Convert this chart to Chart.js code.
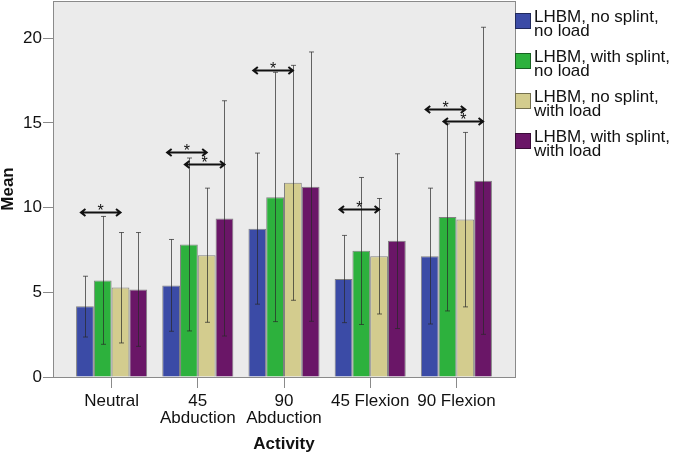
<!DOCTYPE html>
<html>
<head>
<meta charset="utf-8">
<script src="https://cdn.jsdelivr.net/npm/chart.js@4.4.1/dist/chart.umd.min.js"></script>
<style>
    body { margin: 0; background: #fff; }
    .wrap { position: relative; width: 674px; height: 455px; font-family: Arial, "Liberation Sans", sans-serif; }
    .legend-item { position: absolute; left: 515px; }
    .legend-box { position: absolute; left: 0; top: 3px; width: 14px; height: 14px; border: 1px solid rgba(0,0,0,0.45); }
    .legend-text { position: absolute; left: 19px; top: 0; font-size: 17px; line-height: 14px; color: #111; white-space: nowrap; }
</style>
</head>
<body>
<div class="wrap">
    <canvas id="chart" width="674" height="455"></canvas>
    <div id="legend"></div>
</div>
<script>
const activities = [['Neutral'], ['45', 'Abduction'], ['90', 'Abduction'], ['45 Flexion'], ['90 Flexion']];
const seriesNames = [
    ['LHBM, no splint,', 'no load'],
    ['LHBM, with splint,', 'no load'],
    ['LHBM, no splint,', 'with load'],
    ['LHBM, with splint,', 'with load']
];
const seriesColors = ['#3b4ba6', '#2db13d', '#d3cc8e', '#6a1667'];

const noSplintNoLoad = [4.18, 5.40, 8.75, 5.79, 7.13];
const splintNoLoad = [5.70, 7.82, 10.62, 7.45, 9.44];
const noSplintLoad = [5.28, 7.19, 11.47, 7.13, 9.30];
const splintLoad = [5.16, 9.36, 11.23, 8.04, 11.58];

const errHigh = [
    [5.95, 8.12, 13.22, 8.36, 11.15],
    [9.48, 12.93, 17.99, 11.78, 14.95],
    [8.53, 11.15, 18.40, 10.54, 14.44],
    [8.53, 16.31, 19.19, 13.18, 20.65]
];
const errLow = [
    [2.36, 2.70, 4.30, 3.21, 3.13],
    [1.93, 2.72, 3.27, 3.10, 3.90],
    [2.01, 3.23, 4.53, 3.72, 4.14],
    [1.81, 2.42, 3.29, 2.86, 2.52]
];

// significance markers: activity index, compared series, height
const sigGroup = [0, 1, 1, 2, 3, 4, 4];
const sigPair = [[0, 2], [0, 2], [1, 3], [0, 2], [0, 2], [0, 2], [1, 3]];
const sigY = [9.73, 13.28, 12.55, 18.14, 9.89, 15.84, 15.09];

const yTicks = [0, 5, 10, 15, 20];

const allMeans = [noSplintNoLoad, splintNoLoad, noSplintLoad, splintLoad];

const plotDecor = {
    id: 'plotDecor',
    beforeDraw(chart) {
        const { ctx, chartArea: a } = chart;
        ctx.save();
        ctx.fillStyle = '#ebebeb';
        ctx.fillRect(a.left, a.top, a.right - a.left, a.bottom - a.top);
        ctx.restore();
    },
    afterDatasetsDraw(chart) {
        const { ctx, chartArea: a } = chart;
        const y = chart.scales.y;
        ctx.save();
        // error bars
        ctx.strokeStyle = 'rgba(40,40,40,0.7)';
        ctx.lineWidth = 1;
        chart.data.datasets.forEach((ds, di) => {
            const meta = chart.getDatasetMeta(di);
            meta.data.forEach((bar, i) => {
                const x = Math.round(bar.x) + 0.5;
                const yh = y.getPixelForValue(errHigh[di][i]);
                const yl = y.getPixelForValue(errLow[di][i]);
                ctx.beginPath();
                ctx.moveTo(x, yh);
                ctx.lineTo(x, yl);
                ctx.moveTo(x - 2.5, yh);
                ctx.lineTo(x + 2.5, yh);
                ctx.moveTo(x - 2.5, yl);
                ctx.lineTo(x + 2.5, yl);
                ctx.stroke();
            });
        });
        // significance arrows
        ctx.strokeStyle = '#111';
        ctx.fillStyle = '#111';
        ctx.lineWidth = 2;
        ctx.font = '16px Arial, "Liberation Sans"';
        ctx.textAlign = 'center';
        ctx.textBaseline = 'alphabetic';
        sigGroup.forEach((g, k) => {
            const x1 = chart.getDatasetMeta(sigPair[k][0]).data[g].x - 4.5;
            const x2 = chart.getDatasetMeta(sigPair[k][1]).data[g].x + 0.5;
            const yy = Math.round(y.getPixelForValue(sigY[k])) + 0.5;
            ctx.beginPath();
            ctx.moveTo(x1, yy);
            ctx.lineTo(x2, yy);
            ctx.moveTo(x1 + 5, yy - 3.5);
            ctx.lineTo(x1 + 0.5, yy);
            ctx.lineTo(x1 + 5, yy + 3.5);
            ctx.moveTo(x2 - 5, yy - 3.5);
            ctx.lineTo(x2 - 0.5, yy);
            ctx.lineTo(x2 - 5, yy + 3.5);
            ctx.stroke();
            ctx.fillText('*', (x1 + x2) / 2, yy + 3);
        });
        // plot frame
        ctx.strokeStyle = '#8a8a8a';
        ctx.lineWidth = 1;
        ctx.strokeRect(Math.round(a.left) + 0.5, Math.round(a.top) + 0.5,
            Math.round(a.right - a.left), Math.round(a.bottom - a.top));
        ctx.restore();
    }
};

function buildLegend() {
    const legend = document.getElementById('legend');
    seriesNames.forEach((lines, i) => {
        const item = document.createElement('div');
        item.className = 'legend-item';
        item.style.top = (10 + i * 40) + 'px';
        item.innerHTML = `
            <div class="legend-box" style="background:${seriesColors[i]}"></div>
            <div class="legend-text">${lines.join('<br>')}</div>
        `;
        legend.appendChild(item);
    });
}

document.addEventListener('DOMContentLoaded', () => {
    Chart.defaults.font.family = 'Arial, "Liberation Sans", sans-serif';
    Chart.defaults.color = '#111';

    const datasets = allMeans.map((values, i) => ({
        label: seriesNames[i].join(' '),
        data: values.map((v, k) => ({ x: k, y: v })),
        backgroundColor: seriesColors[i],
        borderColor: 'rgba(0,0,0,0.45)',
        borderWidth: 1,
        categoryPercentage: 0.825,
        barPercentage: 1
    }));

    new Chart(document.getElementById('chart'), {
        type: 'bar',
        data: { datasets },
        options: {
            responsive: false,
            animation: false,
            layout: { padding: { top: 1, right: 159, left: 0, bottom: 0 } },
            plugins: { legend: { display: false }, tooltip: { enabled: false } },
            scales: {
                x: {
                    type: 'linear',
                    min: -0.68,
                    max: 4.68,
                    offset: false,
                    border: { display: false },
                    grid: { drawOnChartArea: false, offset: false, tickLength: 11, color: '#8a8a8a' },
                    ticks: {
                        stepSize: 1,
                        includeBounds: false,
                        padding: 5,
                        font: { size: 17, lineHeight: 16.7 / 17 },
                        color: '#111',
                        callback: (v) => activities[v] || ''
                    },
                    title: {
                        display: true,
                        text: 'Activity',
                        font: { size: 17, weight: 'bold', lineHeight: 1.2 },
                        padding: { top: 1, bottom: 0 },
                        color: '#111'
                    },
                    afterFit: (scale) => { scale.height = 78; }
                },
                y: {
                    min: 0,
                    max: 22.2,
                    border: { display: false },
                    grid: { drawOnChartArea: false, tickLength: 10, color: '#8a8a8a' },
                    afterBuildTicks: (scale) => { scale.ticks = yTicks.map(v => ({ value: v })); },
                    ticks: {
                        padding: 1,
                        font: { size: 17 },
                        color: '#111'
                    },
                    title: {
                        display: true,
                        text: 'Mean',
                        font: { size: 17, weight: 'bold', lineHeight: 1 },
                        padding: 0,
                        color: '#111'
                    },
                    afterFit: (scale) => {
                        scale.width = 53;
                        scale.paddingTop = 0;
                        scale.paddingBottom = 0;
                    }
                }
            }
        },
        plugins: [plotDecor]
    });

    buildLegend();
});
</script>
</body>
</html>
